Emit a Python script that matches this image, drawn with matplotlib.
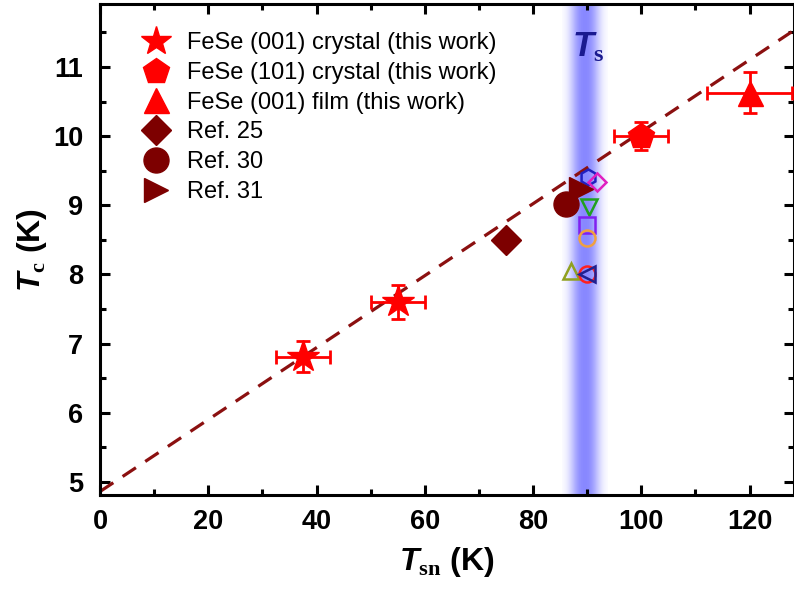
"""Tc versus Tsn for FeSe crystals and films, with literature points."""

import numpy as np
import matplotlib

matplotlib.use("Agg")
import matplotlib.pyplot as plt
from matplotlib.lines import Line2D

plt.rcParams["font.family"] = ["Liberation Sans", "DejaVu Sans"]
plt.rcParams["mathtext.fontset"] = "custom"
plt.rcParams["mathtext.it"] = "Liberation Sans:italic:bold"
plt.rcParams["mathtext.bf"] = "Liberation Serif:bold"
plt.rcParams["mathtext.rm"] = "Liberation Sans:bold"

# this work
star_x = [37.5, 55.0]
star_y = [6.81, 7.60]
star_xerr = [5.0, 5.0]
star_yerr = [0.22, 0.24]

pent_x = [100.0]
pent_y = [10.0]
pent_xerr = [5.0]
pent_yerr = [0.2]

film_x = [120.0]
film_y = [10.63]
film_xerr = [7.8]
film_yerr = [0.3]

# literature (filled, dark red)
ref25 = (75.0, 8.5)
ref30 = (86.0, 9.02)
ref31 = (88.8, 9.24)

# open markers around Ts
open_x = [90.1, 91.8, 90.4, 90.0, 90.0, 87.0, 90.0, 89.9]
open_y = [9.41, 9.33, 8.98, 8.72, 8.53, 8.05, 8.0, 8.0]
open_marker = ["h", "D", "v", "s", "o", "^", "o", "<"]
open_color = ["#2020c0", "#e020c0", "#20a020", "#8020f0",
              "#f0a040", "#90a020", "#ff2020", "#202090"]

# linear guide line end points
fit_x = [0.0, 128.2]
fit_y = [4.86, 11.53]

ts_center = 89.6
ts_halfwidth = 4.2

RED = "#ff0000"
DARK = "#7d0000"

fig = plt.figure(figsize=(7.94, 5.90), dpi=100)
ax = fig.add_axes([100 / 794, 95 / 590, 694 / 794, 491 / 590])
ax.set_xlim(0, 128.2)
ax.set_ylim(4.81, 11.91)

# Ts band: soft vertical blue stripe
prof_x = np.linspace(-1, 1, 200)
prof = np.exp(-(np.abs(prof_x) / 0.62) ** 2.5)
band = np.ones((1, prof.size, 4))
band[0, :, 0] = 0.38
band[0, :, 1] = 0.38
band[0, :, 2] = 1.0
band[0, :, 3] = prof * 0.75
ax.imshow(band, extent=[ts_center - ts_halfwidth, ts_center + ts_halfwidth, 4.81, 11.91],
          aspect="auto", zorder=0, interpolation="bilinear")
ax.text(ts_center + 0.6, 11.28, r"$\mathit{T}_{\mathbf{s}}$", color="#1a1a90",
        fontsize=25, ha="center", va="center", zorder=5)

ax.plot(fit_x, fit_y, color="#8b1010", lw=2.3, dashes=(5, 3.5), zorder=2)

ebar_kw = dict(fmt="none", ecolor=RED, elinewidth=2, capsize=5, capthick=2, zorder=3)
ax.errorbar(star_x, star_y, xerr=star_xerr, yerr=star_yerr, **ebar_kw)
ax.errorbar(pent_x, pent_y, xerr=pent_xerr, yerr=pent_yerr, **ebar_kw)
ax.errorbar(film_x, film_y, xerr=film_xerr, yerr=film_yerr, **ebar_kw)

ax.plot(star_x, star_y, "*", color=RED, ms=24, ls="none", zorder=4)
ax.plot(pent_x, pent_y, "p", color=RED, ms=19, ls="none", zorder=4)
ax.plot(film_x, film_y, "^", color=RED, ms=18, ls="none", zorder=4)

for mx, my, mk, mc in zip(open_x, open_y, open_marker, open_color):
    ax.plot([mx], [my], mk, mfc="none", mec=mc, mew=1.8,
            ms=9 if mk == "D" else 11.5, zorder=4)

ax.plot([ref25[0]], [ref25[1]], "D", color=DARK, ms=15, zorder=4)
ax.plot([ref30[0]], [ref30[1]], "o", color=DARK, ms=18, zorder=4)
ax.plot([ref31[0]], [ref31[1]], ">", color=DARK, ms=17, zorder=4)

handles = [
    Line2D([], [], marker="*", color=RED, ls="none", ms=22),
    Line2D([], [], marker="p", color=RED, ls="none", ms=19),
    Line2D([], [], marker="^", color=RED, ls="none", ms=18),
    Line2D([], [], marker="D", color=DARK, ls="none", ms=15),
    Line2D([], [], marker="o", color=DARK, ls="none", ms=18),
    Line2D([], [], marker=">", color=DARK, ls="none", ms=17),
]
labels = ["FeSe (001) crystal (this work)", "FeSe (101) crystal (this work)",
          "FeSe (001) film (this work)", "Ref. 25", "Ref. 30", "Ref. 31"]
ax.legend(handles, labels, loc="upper left", bbox_to_anchor=(0.046, 0.962),
          frameon=False, fontsize=17, labelspacing=0.33, handletextpad=0.75,
          handlelength=1.2, borderaxespad=0)

ax.set_xticks(np.arange(0, 121, 20))
ax.set_xticks(np.arange(0, 129, 10), minor=True)
ax.set_yticks(np.arange(5, 12, 1))
ax.set_yticks(np.arange(5, 12, 0.5), minor=True)
ax.tick_params(which="both", direction="in", top=True, right=True, width=2.2)
ax.tick_params(which="major", length=7, labelsize=19.5)
ax.tick_params(axis="x", which="major", pad=10)
ax.tick_params(axis="y", which="major", pad=12)
ax.tick_params(which="minor", length=4)
for lab in ax.get_xticklabels() + ax.get_yticklabels():
    lab.set_fontweight("bold")
for sp in ax.spines.values():
    sp.set_linewidth(2.2)

ax.set_xlabel(r"$\mathit{T}_{\mathbf{sn}}$ (K)", fontsize=23, fontweight="bold", labelpad=7)
ax.set_ylabel(r"$\mathit{T}_{\mathbf{c}}$ (K)", fontsize=23, fontweight="bold", labelpad=3)

fig.savefig("out.png", dpi=100)
